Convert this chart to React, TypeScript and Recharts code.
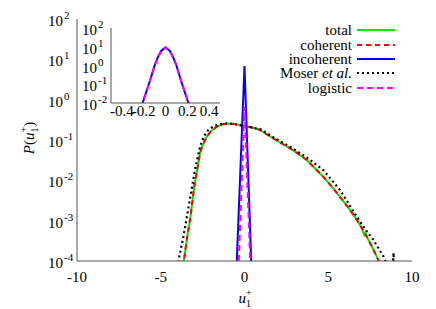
import { LineChart, Line, XAxis, YAxis, Legend } from 'recharts';

const SERIF = '"Liberation Serif", "DejaVu Serif", serif';
const FRAME = '#555';

const SERIES_NAMES = ['total', 'coherent', 'incoherent', 'Moser et al.', 'logistic'];

// x, P(u1+) pairs
const TOTAL: [number, number][] = [
  [-3.7, 7e-5], [-3.62, 1e-4], [-3.4, 4.5e-4], [-3.25, 1.05e-3], [-3.0, 6.9e-3],
  [-2.8, 0.021], [-2.66, 0.047], [-2.5, 0.074], [-2.26, 0.12], [-2.0, 0.166],
  [-1.66, 0.214], [-1.3, 0.245], [-1.0, 0.257], [-0.6, 0.251], [-0.3, 0.234],
  [0, 0.219], [0.33, 0.209], [0.93, 0.178], [1.3, 0.141], [1.72, 0.11],
  [2.2, 0.083], [2.72, 0.062], [3.2, 0.046], [3.71, 0.032], [4.2, 0.02],
  [4.7, 0.0123], [5.2, 0.0071], [5.7, 0.0039], [6.2, 0.0021], [6.7, 0.00105],
  [7.0, 6.6e-4], [7.15, 4.4e-4], [7.22, 5.0e-4], [7.3, 4.0e-4], [7.65, 2.1e-4],
  [7.99, 1.05e-4], [8.1, 7e-5],
];
const COHERENT: [number, number][] = [
  [-3.7, 7e-5], [-3.62, 1e-4], [-3.4, 4.5e-4], [-3.25, 1.05e-3], [-3.0, 6.9e-3],
  [-2.8, 0.021], [-2.66, 0.047], [-2.5, 0.074], [-2.26, 0.12], [-2.0, 0.166],
  [-1.66, 0.214], [-1.3, 0.245], [-1.0, 0.257], [-0.6, 0.251], [-0.3, 0.234],
  [0, 0.219], [0.33, 0.209], [0.93, 0.178], [1.3, 0.141], [1.72, 0.11],
  [2.2, 0.083], [2.72, 0.062], [3.2, 0.046], [3.71, 0.032], [4.2, 0.02],
  [4.7, 0.0123], [5.2, 0.0071], [5.7, 0.0039], [6.2, 0.0021], [6.7, 0.00105],
  [7.0, 6.6e-4], [7.3, 4.0e-4], [7.65, 2.1e-4], [7.99, 1.05e-4], [8.1, 7e-5],
];
const INCOHERENT: [number, number][] = [[-0.46, 1e-4], [0, 6.8], [0.4, 1e-4]];
const MOSER: [number, number][] = [
  [-4.05, 7e-5], [-3.95, 1e-4], [-3.65, 4e-4], [-3.3, 2.7e-3], [-2.96, 0.018],
  [-2.66, 0.068], [-2.45, 0.115], [-2.26, 0.162], [-1.95, 0.205], [-1.66, 0.234],
  [-1.2, 0.257], [-0.7, 0.251], [0, 0.224], [1.0, 0.182], [1.72, 0.117],
  [2.72, 0.068], [3.71, 0.037], [4.7, 0.018], [5.7, 0.0058], [6.7, 0.00126],
  [7.2, 6.2e-4], [7.7, 3.3e-4], [8.3, 1.3e-4], [8.55, 7e-5], [8.85, 7e-5],
  [8.9, 1.6e-4], [8.93, 5e-5],
];
const LOGISTIC: [number, number][] = [[-0.34, 1e-4], [0, 0.67], [0.34, 1e-4]];

// inset: zoom of the incoherent part
const INSET_INCOHERENT: [number, number][] = [
  [-0.26, 0.002], [-0.21, 0.01], [-0.153, 0.1], [-0.1, 1.0], [-0.07, 2.8],
  [-0.04, 6.0], [0, 9.3], [0.04, 6.0], [0.07, 2.8], [0.1, 1.0],
  [0.153, 0.1], [0.21, 0.01], [0.26, 0.002],
];
const INSET_LOGISTIC: [number, number][] = [
  [-0.26, 0.0022], [-0.21, 0.011], [-0.15, 0.11], [-0.1, 0.95], [-0.05, 4.6],
  [0, 9.0], [0.05, 4.6], [0.1, 0.95], [0.15, 0.11], [0.21, 0.011], [0.26, 0.0022],
];

const X_TICKS = [-10, -5, 0, 5, 10];
const Y_DECADES = [1e-4, 1e-3, 1e-2, 1e-1, 1, 10, 100];
const INSET_X_TICKS = [-0.4, -0.2, 0, 0.2, 0.4];
const INSET_Y_DECADES = [1e-2, 1e-1, 1, 10, 100];

const minorsOf = (decades: number[]) =>
  decades.slice(0, -1).flatMap((d) => [2, 3, 4, 5, 6, 7, 8, 9].map((m) => m * d));

const pts = (arr: [number, number][]) => arr.map(([x, y]) => ({ x, y }));

function PowTick(props: any) {
  const { x, y, payload } = props;
  const e = Math.round(Math.log10(payload.value));
  return (
    <g>
      <text x={x} y={y + 7} textAnchor="end" fontFamily={SERIF} fontSize={15} fill="#000">10</text>
      <text x={x + 1} y={y} textAnchor="start" fontFamily={SERIF} fontSize={11} fill="#000">{e}</text>
    </g>
  );
}

const tickFont = { fontFamily: SERIF, fontSize: 15, fill: '#000' };

function LegendBox({ payload = [] }: any) {
  const items = [...payload].sort(
    (a: any, b: any) => SERIES_NAMES.indexOf(a.value) - SERIES_NAMES.indexOf(b.value),
  );
  return (
    <div style={{ fontFamily: SERIF, fontSize: 15, color: '#000' }}>
      {items.map((entry: any, i: number) => {
        const name: string = entry.value;
        const dash = entry.payload?.strokeDasharray;
        return (
          <div key={i} style={{ display: 'flex', justifyContent: 'flex-end', alignItems: 'center', height: 14.4, lineHeight: '14px' }}>
            {name.includes('et al.') ? (
              <span>{name.replace('et al.', '')}<i>et al.</i></span>
            ) : (
              <span>{name}</span>
            )}
            <svg width={38} height={6} style={{ marginLeft: 5 }}>
              <line x1={0} y1={3} x2={38} y2={3} stroke={entry.color} strokeWidth={2} strokeDasharray={dash} />
            </svg>
          </div>
        );
      })}
    </div>
  );
}

export default function App() {
  return (
    <div style={{ position: 'absolute', left: 0, top: 0, width: 436, height: 309, background: '#fff' }}>
      <LineChart width={436} height={309} margin={{ top: 19, right: 24, bottom: 18, left: 17 }}>
        <XAxis
          type="number" dataKey="x" domain={[-10, 10]} ticks={X_TICKS} interval={0}
          tickLine={false} tickSize={0} tickMargin={10} tick={tickFont} height={30}
          axisLine={{ stroke: FRAME }} allowDataOverflow
          label={{
            content: () => (
              <text x={245} y={303} textAnchor="middle" fontFamily={SERIF} fontSize={15} fill="#000">
                <tspan fontStyle="italic">u</tspan>
                <tspan fontSize={10} dy={4}>1</tspan>
                <tspan fontSize={10} dx={-5} dy={-11}>+</tspan>
              </text>
            ),
          }}
        />
        <XAxis xAxisId="top" type="number" orientation="top" mirror domain={[-10, 10]} ticks={X_TICKS} interval={0}
          height={0} tick={false} tickSize={5} tickLine={{ stroke: FRAME }} axisLine={{ stroke: FRAME }} allowDataOverflow />
        <XAxis xAxisId="bt" type="number" orientation="bottom" mirror domain={[-10, 10]} ticks={X_TICKS} interval={0}
          height={0} tick={false} tickSize={5} tickLine={{ stroke: FRAME }} axisLine={false} allowDataOverflow />
        <YAxis
          type="number" scale="log" domain={[1e-4, 100]} ticks={Y_DECADES} interval={0} allowDataOverflow
          width={60} tickLine={false} tickSize={0} tickMargin={14} tick={<PowTick />}
          axisLine={{ stroke: FRAME }}
          label={{
            content: () => (
              <text x={34} y={138} transform="rotate(-90 34 138)" textAnchor="middle" fontFamily={SERIF} fontSize={15} fill="#000">
                <tspan fontStyle="italic">P</tspan>
                <tspan>(</tspan>
                <tspan fontStyle="italic">u</tspan>
                <tspan fontSize={10} dy={4}>1</tspan>
                <tspan fontSize={10} dx={-5} dy={-11}>+</tspan>
                <tspan dy={7}>)</tspan>
              </text>
            ),
          }}
        />
        <YAxis yAxisId="lmaj" type="number" scale="log" domain={[1e-4, 100]} ticks={Y_DECADES} interval={0} allowDataOverflow
          orientation="left" mirror width={0} tick={false} tickSize={5} tickLine={{ stroke: FRAME }} axisLine={false} />
        <YAxis yAxisId="lmin" type="number" scale="log" domain={[1e-4, 100]} ticks={minorsOf(Y_DECADES)} interval={0} allowDataOverflow
          orientation="left" mirror width={0} tick={false} tickSize={2.5} tickLine={{ stroke: FRAME }} axisLine={false} />
        <YAxis yAxisId="rmaj" type="number" scale="log" domain={[1e-4, 100]} ticks={Y_DECADES} interval={0} allowDataOverflow
          orientation="right" mirror width={0} tick={false} tickSize={5} tickLine={{ stroke: FRAME }} axisLine={{ stroke: FRAME }} />
        <YAxis yAxisId="rmin" type="number" scale="log" domain={[1e-4, 100]} ticks={minorsOf(Y_DECADES)} interval={0} allowDataOverflow
          orientation="right" mirror width={0} tick={false} tickSize={2.5} tickLine={{ stroke: FRAME }} axisLine={false} />

        <Line data={pts(TOTAL)} dataKey="y" name={SERIES_NAMES[0]} stroke="#00e600" strokeWidth={2} dot={false} isAnimationActive={false} />
        <Line data={pts(COHERENT)} dataKey="y" name={SERIES_NAMES[1]} stroke="#ff0000" strokeWidth={2} strokeDasharray="5 4" dot={false} isAnimationActive={false} />
        <Line data={pts(INCOHERENT)} dataKey="y" name={SERIES_NAMES[2]} stroke="#0000ff" strokeWidth={2} dot={false} isAnimationActive={false} />
        <Line data={pts(MOSER)} dataKey="y" name={SERIES_NAMES[3]} stroke="#000" strokeWidth={2.2} strokeDasharray="2 3" dot={false} isAnimationActive={false} />
        <Line data={pts(LOGISTIC)} dataKey="y" name={SERIES_NAMES[4]} stroke="#ff00ff" strokeWidth={2} strokeDasharray="6 4" dot={false} isAnimationActive={false} />

        <Legend layout="horizontal" verticalAlign="middle" align="center" content={<LegendBox />}
          wrapperStyle={{ left: 235, top: 23, width: 160, height: 75 }} />
      </LineChart>

      <div style={{ position: 'absolute', left: 70, top: 15 }}>
        <LineChart width={152} height={106} margin={{ top: 13, right: 2, bottom: 0, left: 2 }}>
          <XAxis type="number" dataKey="x" domain={[-0.5, 0.5]} ticks={INSET_X_TICKS} interval={0} allowDataOverflow
            tickLine={false} tickSize={0} tickMargin={2} tick={tickFont} height={18} axisLine={{ stroke: FRAME }} />
          <XAxis xAxisId="top" type="number" orientation="top" mirror domain={[-0.5, 0.5]} ticks={INSET_X_TICKS} interval={0}
            height={0} tick={false} tickSize={4} tickLine={{ stroke: FRAME }} axisLine={{ stroke: FRAME }} allowDataOverflow />
          <XAxis xAxisId="bt" type="number" orientation="bottom" mirror domain={[-0.5, 0.5]} ticks={INSET_X_TICKS} interval={0}
            height={0} tick={false} tickSize={4} tickLine={{ stroke: FRAME }} axisLine={false} allowDataOverflow />
          <YAxis type="number" scale="log" domain={[1e-2, 100]} ticks={INSET_Y_DECADES} interval={0} allowDataOverflow
            width={39} tickLine={false} tickSize={0} tickMargin={14} tick={<PowTick />} axisLine={{ stroke: FRAME }} />
          <YAxis yAxisId="lmaj" type="number" scale="log" domain={[1e-2, 100]} ticks={INSET_Y_DECADES} interval={0} allowDataOverflow
            orientation="left" mirror width={0} tick={false} tickSize={4} tickLine={{ stroke: FRAME }} axisLine={false} />
          <YAxis yAxisId="lmin" type="number" scale="log" domain={[1e-2, 100]} ticks={minorsOf(INSET_Y_DECADES)} interval={0} allowDataOverflow
            orientation="left" mirror width={0} tick={false} tickSize={2} tickLine={{ stroke: FRAME }} axisLine={false} />
          <YAxis yAxisId="rmaj" type="number" scale="log" domain={[1e-2, 100]} ticks={INSET_Y_DECADES} interval={0} allowDataOverflow
            orientation="right" mirror width={0} tick={false} tickSize={4} tickLine={{ stroke: FRAME }} axisLine={{ stroke: FRAME }} />
          <YAxis yAxisId="rmin" type="number" scale="log" domain={[1e-2, 100]} ticks={minorsOf(INSET_Y_DECADES)} interval={0} allowDataOverflow
            orientation="right" mirror width={0} tick={false} tickSize={2} tickLine={{ stroke: FRAME }} axisLine={false} />
          <Line data={pts(INSET_INCOHERENT)} dataKey="y" stroke="#0000ff" strokeWidth={2} dot={false} isAnimationActive={false} />
          <Line data={pts(INSET_LOGISTIC)} dataKey="y" stroke="#ff00ff" strokeWidth={2} strokeDasharray="5 4" dot={false} isAnimationActive={false} />
        </LineChart>
      </div>
    </div>
  );
}
